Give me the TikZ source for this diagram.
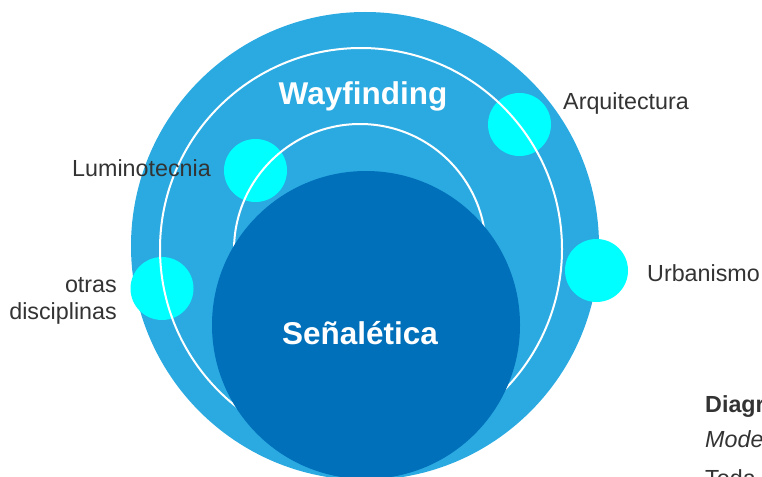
\documentclass[tikz,border=0pt]{standalone}
\usepackage{fontspec}
\setmainfont{Liberation Sans}
\definecolor{lightblue}{HTML}{2AAAE1}
\definecolor{darkblue}{HTML}{0070BB}
\definecolor{cyanc}{HTML}{00FFFF}
\definecolor{labelgray}{HTML}{333333}
\begin{document}
\begin{tikzpicture}[x=1pt,y=-1pt,
  lbl/.style={text=labelgray,font=\fontsize{23.3}{27}\selectfont,inner sep=0pt,anchor=base west},
  lblr/.style={text=labelgray,font=\fontsize{23.3}{27}\selectfont,inner sep=0pt,anchor=base east},
  title/.style={text=white,font=\fontsize{31.5}{36}\selectfont\bfseries,inner sep=0pt,anchor=base},
  dot/.style={circle,fill=cyanc,minimum size=63pt,inner sep=0pt,draw=none},
  ring/.style={white,line width=2pt}]
\useasboundingbox (0,0) rectangle (762,476);
\clip (0,0) rectangle (762,476);
% outer light circle
\fill[lightblue] (365,246) circle[radius=234];
% cyan dots
\node[dot] (lum) at (255.5,170.5) {};
\node[dot] (arq) at (519.5,124.5) {};
\node[dot] (urb) at (596.5,270.5) {};
\node[dot] (otr) at (162,288.5) {};
% white rings
\draw[ring] (361,249) circle[radius=201];
\draw[ring] (360,250) circle[radius=126];
% inner dark circle
\fill[darkblue] (366,325) circle[radius=154];
% titles
\node[title] (way) at (363,105) {Wayfinding};
\node[title] (sen) at (360,344) {Señalética};
% labels
\node[lbl] (larq) at (563,110) {Arquitectura};
\node[lblr] (llum) at (211,176) {Luminotecnia};
\node[lbl] (lurb) at (647,281) {Urbanismo};
\node[lblr] (lotr1) at (117,292) {otras};
\node[lblr] (lotr2) at (117,319) {disciplinas};
% bottom-right caption (cut off at the edge, as in the reference)
\node[lbl,font=\fontsize{23.3}{27}\selectfont\bfseries] (cap1) at (705,412) {Diagrama};
\node[lbl,font=\fontsize{23.3}{27}\selectfont\itshape] (cap2) at (705,447) {Modelo};
\node[lbl] (cap3) at (705,486) {Toda};
\end{tikzpicture}
\end{document}
